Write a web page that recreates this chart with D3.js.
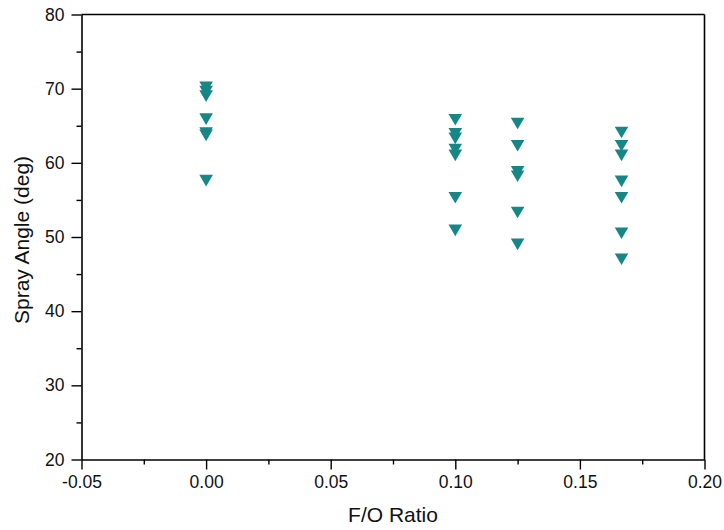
<!DOCTYPE html>
<html>
<head>
<meta charset="utf-8">
<script src="https://cdn.jsdelivr.net/npm/d3@7"></script>
<style>
html,body{margin:0;padding:0;background:#fff;}
svg{display:block;font-family:"Liberation Sans",Arial,sans-serif;}
</style>
</head>
<body>
<svg id="chart" width="724" height="530"></svg>
<script>
const foRatio = [0.0, 0.10, 0.125, 0.1667];
const angles0 = [70.2, 69.6, 69.0, 65.9, 64.0, 63.7, 57.6];
const angles1 = [65.8, 63.9, 63.3, 61.8, 61.0, 55.3, 50.9];
const angles2 = [65.3, 62.3, 58.8, 58.2, 53.3, 49.0];
const angles3 = [64.1, 62.3, 61.0, 57.5, 55.3, 50.5, 47.0];
const xTicks = [-0.05, 0.00, 0.05, 0.10, 0.15, 0.20];
const yTicks = [20, 30, 40, 50, 60, 70, 80];

const groups = [angles0, angles1, angles2, angles3];
const points = [];
groups.forEach((arr, i) => arr.forEach(v => points.push({x: foRatio[i], y: v})));

const svg = d3.select("#chart");
const L = 81.5, R = 704.5, T = 14.5, B = 459.5;
const x = d3.scaleLinear().domain([-0.05, 0.20]).range([L, R]);
const y = d3.scaleLinear().domain([20, 80]).range([B, T]);

const xMinor = d3.range(-0.025, 0.2, 0.05);
const yMinor = d3.range(25, 80, 10);

const axisStyle = g => {
  g.selectAll("path.domain").attr("stroke", "#000").attr("stroke-width", 1.6);
  g.selectAll(".tick line").attr("stroke", "#000").attr("stroke-width", 1.4);
  g.selectAll(".tick text").attr("fill", "#111").attr("font-size", 17.5)
    .attr("font-family", '"Liberation Sans",Arial,sans-serif');
};

svg.append("g").attr("transform", `translate(0,${B})`)
  .call(d3.axisBottom(x).tickValues(xMinor).tickSize(5).tickFormat("").tickSizeOuter(0))
  .call(g => g.select(".domain").remove())
  .call(axisStyle);
svg.append("g").attr("transform", `translate(${L},0)`)
  .call(d3.axisLeft(y).tickValues(yMinor).tickSize(5).tickFormat("").tickSizeOuter(0))
  .call(g => g.select(".domain").remove())
  .call(axisStyle);

svg.append("g").attr("transform", `translate(0,${B})`)
  .call(d3.axisBottom(x).tickValues(xTicks).tickSize(10).tickSizeOuter(0).tickPadding(6)
    .tickFormat(d => d3.format(".2f")(d).replace("−", "-")))
  .call(axisStyle);
svg.append("g").attr("transform", `translate(${L},0)`)
  .call(d3.axisLeft(y).tickValues(yTicks).tickSize(10).tickSizeOuter(0).tickPadding(7)
    .tickFormat(d3.format("d")))
  .call(axisStyle);

svg.append("line").attr("x1", L).attr("x2", R).attr("y1", T).attr("y2", T)
  .attr("stroke", "#000").attr("stroke-width", 1.6);
svg.append("line").attr("x1", R).attr("x2", R).attr("y1", T).attr("y2", B)
  .attr("stroke", "#000").attr("stroke-width", 1.6);

const hw = 6.8, hh = 5.8;
svg.append("g").selectAll("path").data(points).join("path")
  .attr("d", d => {
    const cx = x(d.x), cy = y(d.y);
    return `M${cx - hw},${cy - hh}L${cx + hw},${cy - hh}L${cx},${cy + hh}Z`;
  })
  .attr("fill", "#168686");

svg.append("text").attr("x", (L + R) / 2).attr("y", 522).attr("text-anchor", "middle")
  .attr("font-size", 21).attr("fill", "#111").text("F/O Ratio");
svg.append("text").attr("transform", `translate(29,${(T + B) / 2 + 3}) rotate(-90)`)
  .attr("text-anchor", "middle").attr("font-size", 21).attr("fill", "#111")
  .text("Spray Angle (deg)");
</script>
</body>
</html>
